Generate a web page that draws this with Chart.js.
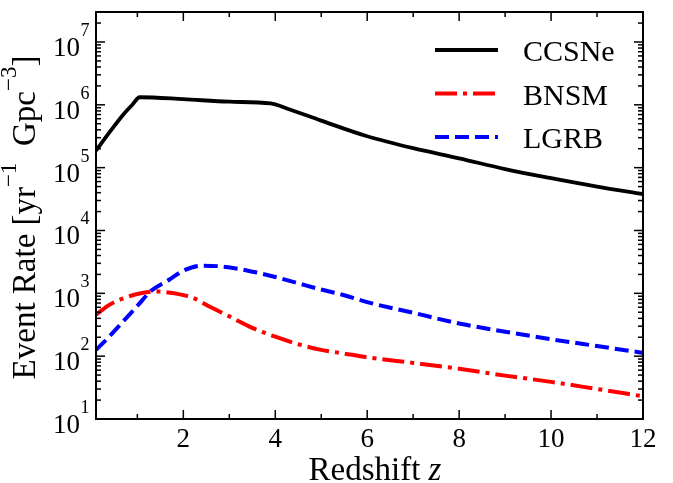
<!DOCTYPE html>
<html>
<head>
<meta charset="utf-8">
<style>
  body { margin: 0; background: #fff; }
  #wrap { width: 673px; height: 483px; position: relative; }
</style>
</head>
<body>
<div id="wrap"><canvas id="rateChart"></canvas></div>
<script src="https://cdn.jsdelivr.net/npm/chart.js@4.4.0/dist/chart.umd.min.js"></script>
<script>
// redshift samples and event rates [yr^-1 Gpc^-3]
const zCCSNe = [0.1, 0.4, 0.7, 0.9, 1.05, 2, 3, 3.9, 4.3, 5, 6, 7, 8, 9, 10, 11, 12];
const rateCCSNe = [1.86e5, 3.7e5, 7.08e5, 1.02e6, 1.32e6, 1.23e6, 1.12e6, 1.05e6,
  8.5e5, 5.6e5, 3.16e5, 2.04e5, 1.41e5, 9.5e4, 6.8e4, 5.0e4, 3.8e4];

const zBNSM = [0.1, 0.4, 0.7, 1.0, 1.4, 1.8, 2.2, 2.6, 3.0, 3.5, 4.0, 4.5, 5.0, 5.5, 6, 7, 8, 9, 10, 11, 12];
const rateBNSM = [457, 661, 832, 977, 1072, 1000, 851, 600, 430, 282, 204, 155, 126, 110, 96,
  78, 63, 49, 39, 30, 23];

const zLGRB = [0.1, 0.4, 0.7, 1.0, 1.3, 1.7, 2.0, 2.4, 2.8, 3.2, 3.6, 4.0, 4.5, 5, 5.5, 6, 7, 8, 9, 10, 11, 12];
const rateLGRB = [126, 209, 363, 631, 1096, 1660, 2291, 2754, 2692, 2455, 2138, 1820, 1445,
  1148, 933, 724, 490, 331, 245, 186, 145, 113];

// axis ticks
const xTicks = [2, 4, 6, 8, 10, 12];
const xMinorTicks = [1, 3, 5, 7, 9, 11];
const yTickExps = [1, 2, 3, 4, 5, 6, 7];

const serif = '"Liberation Serif", "Times New Roman", serif';

function toPoints(xs, ys) {
  return xs.map((x, i) => ({ x: x, y: ys[i] }));
}

// frame, inward ticks, labels and legend drawn the matplotlib way
const axesDecor = {
  id: 'axesDecor',
  afterDatasetsDraw(chart) {
    const ctx = chart.ctx;
    const a = chart.chartArea;
    const xs = chart.scales.x;
    const ys = chart.scales.y;

    function seg(x1, y1, x2, y2) {
      ctx.beginPath();
      ctx.moveTo(x1, y1);
      ctx.lineTo(x2, y2);
      ctx.stroke();
    }

    ctx.save();
    ctx.strokeStyle = '#000';
    ctx.fillStyle = '#000';
    ctx.lineWidth = 1.5;

    // x ticks, bottom and top
    xTicks.concat(xMinorTicks).forEach(v => {
      const len = xTicks.includes(v) ? 9 : 5;
      const px = xs.getPixelForValue(v);
      seg(px, a.bottom, px, a.bottom - len);
      seg(px, a.top, px, a.top + len);
    });

    // y ticks, left and right
    const yMin = ys.min, yMax = ys.max;
    for (let e = 0; e <= 8; e++) {
      for (let m = 1; m <= 9; m++) {
        const v = m * Math.pow(10, e);
        if (v < yMin || v > yMax * 1.0001) continue;
        const len = m === 1 ? 9 : 5;
        const py = ys.getPixelForValue(v);
        seg(a.left, py, a.left + len, py);
        seg(a.right, py, a.right - len, py);
      }
    }

    // frame
    ctx.lineWidth = 2;
    ctx.strokeRect(a.left, a.top, a.right - a.left, a.bottom - a.top);

    // x tick labels
    ctx.font = '27px ' + serif;
    ctx.textAlign = 'center';
    ctx.textBaseline = 'alphabetic';
    xTicks.forEach(v => {
      ctx.fillText(String(v), xs.getPixelForValue(v), a.bottom + 28);
    });

    // y tick labels 10^n
    yTickExps.forEach(n => {
      const py = ys.getPixelForValue(Math.pow(10, n));
      ctx.font = '27px ' + serif;
      ctx.textAlign = 'right';
      ctx.fillText('10', a.left - 16, py + 14);
      ctx.font = '18px ' + serif;
      ctx.textAlign = 'left';
      ctx.fillText(String(n), a.left - 15.5, py - 6);
    });

    // x axis title
    ctx.textAlign = 'left';
    ctx.font = '33px ' + serif;
    const t1 = 'Redshift ';
    const w1 = ctx.measureText(t1).width;
    ctx.font = 'italic 33px ' + serif;
    const w2 = ctx.measureText('z').width;
    const xStart = 375 - (w1 + w2) / 2;
    ctx.font = '33px ' + serif;
    ctx.fillText(t1, xStart, 480);
    ctx.font = 'italic 33px ' + serif;
    ctx.fillText('z', xStart + w1, 480);

    // y axis title with superscripts
    const parts = [
      { t: 'Event Rate [yr', sup: false },
      { t: '\u22121', sup: true },
      { t: '  Gpc', sup: false },
      { t: '\u22123', sup: true },
      { t: ']', sup: false }
    ];
    const mainFont = '33px ' + serif, supFont = '23px ' + serif;
    let total = 0;
    parts.forEach(p => {
      ctx.font = p.sup ? supFont : mainFont;
      p.w = ctx.measureText(p.t).width;
      total += p.w;
    });
    ctx.translate(35, 217.5);
    ctx.rotate(-Math.PI / 2);
    let cx = -total / 2;
    parts.forEach(p => {
      ctx.font = p.sup ? supFont : mainFont;
      ctx.fillText(p.t, cx, p.sup ? -19 : 0);
      cx += p.w;
    });
    ctx.setTransform(1, 0, 0, 1, 0, 0);
    ctx.restore();

    // legend
    ctx.save();
    const rows = [50, 93.5, 137];
    chart.data.datasets.forEach((ds, i) => {
      const yy = rows[i];
      ctx.strokeStyle = ds.borderColor;
      ctx.lineWidth = ds.borderWidth;
      ctx.setLineDash(ds.borderDash || []);
      seg(435, yy, 498, yy);
      ctx.setLineDash([]);
      ctx.fillStyle = '#000';
      ctx.font = '30px ' + serif;
      ctx.textAlign = 'left';
      ctx.fillText(ds.label, 523, yy + 11);
    });
    ctx.restore();
  }
};

const ctx = document.getElementById('rateChart').getContext('2d');
new Chart(ctx, {
  type: 'line',
  data: {
    datasets: [
      {
        label: 'CCSNe',
        data: toPoints(zCCSNe, rateCCSNe),
        borderColor: '#000000',
        borderWidth: 3.8,
        pointRadius: 0,
        cubicInterpolationMode: 'monotone',
        fill: false
      },
      {
        label: 'BNSM',
        data: toPoints(zBNSM, rateBNSM),
        borderColor: '#ff0000',
        borderWidth: 4,
        borderDash: [22, 6, 4, 6],
        pointRadius: 0,
        cubicInterpolationMode: 'monotone',
        fill: false
      },
      {
        label: 'LGRB',
        data: toPoints(zLGRB, rateLGRB),
        borderColor: '#0000ff',
        borderWidth: 4,
        borderDash: [14, 6],
        pointRadius: 0,
        cubicInterpolationMode: 'monotone',
        fill: false
      }
    ]
  },
  options: {
    responsive: true,
    maintainAspectRatio: false,
    animation: false,
    layout: { padding: { top: 12, right: 30, left: 0, bottom: 0 } },
    plugins: {
      legend: { display: false },
      tooltip: { enabled: false }
    },
    scales: {
      x: {
        type: 'linear',
        min: 0.1,
        max: 12,
        ticks: { display: false },
        grid: { display: false },
        border: { display: false },
        afterFit: s => { s.height = 64; }
      },
      y: {
        type: 'logarithmic',
        min: 10,
        max: 3e7,
        ticks: { display: false },
        grid: { display: false },
        border: { display: false },
        afterFit: s => { s.width = 96; }
      }
    }
  },
  plugins: [axesDecor]
});
</script>
</body>
</html>
